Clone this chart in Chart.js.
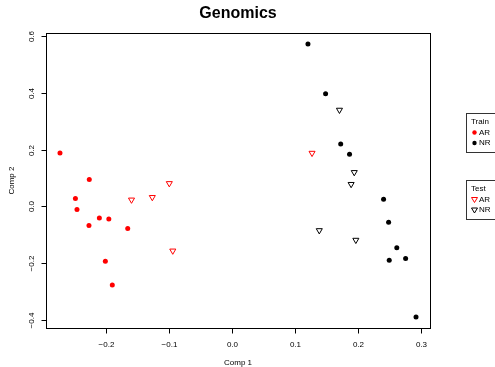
<!DOCTYPE html>
<html>
<head>
<meta charset="utf-8">
<title>Genomics</title>
<script src="https://cdn.jsdelivr.net/npm/chart.js@4.4.1/dist/chart.umd.min.js"></script>
<style>
  html, body { margin: 0; padding: 0; background: #fff; }
  #wrap { width: 495px; height: 367px; }
</style>
</head>
<body>
<div id="wrap"><canvas id="chart" width="495" height="367"></canvas></div>
<script>
// values
const trainArX = [-0.2735, -0.227, -0.249, -0.2465, -0.211, -0.196, -0.2275, -0.166, -0.2015, -0.1905];
const trainArY = [0.188, 0.095, 0.028, -0.011, -0.041, -0.045, -0.068, -0.078, -0.194, -0.278];
const trainNrX = [0.120, 0.148, 0.172, 0.186, 0.240, 0.248, 0.261, 0.275, 0.249, 0.2915];
const trainNrY = [0.5725, 0.397, 0.220, 0.184, 0.025, -0.056, -0.146, -0.184, -0.190, -0.3905];
const testArX = [-0.160, -0.127, -0.100, -0.0945, 0.1265];
const testArY = [0.023, 0.032, 0.081, -0.157, 0.188];
const testNrX = [0.170, 0.1935, 0.1885, 0.138, 0.196];
const testNrY = [0.340, 0.120, 0.078, -0.085, -0.119];

const xRange = [-0.296, 0.314];
const yRange = [-0.429, 0.611];
const xTitle = 'Comp 1';
const yTitle = 'Comp 2';
const legendGroups = ['Train', 'Test'];
const legendLabels = ['AR', 'NR'];

const FONT = '"Liberation Sans", Arial, Helvetica, sans-serif';

const toPoints = (xs, ys) => xs.map((x, i) => ({ x, y: ys[i] }));
const fmt = v => {
  const s = (Math.abs(v) < 1e-9 ? 0 : v).toFixed(1);
  return s.replace('-', '\u2212');
};

// R-style box, ticks, tick labels, axis titles and the two legends
const rAxes = {
  id: 'rAxes',
  afterDraw(chart) {
    const { ctx, chartArea: a, scales } = chart;
    const xs = scales.x, ys = scales.y;
    ctx.save();
    ctx.strokeStyle = '#000';
    ctx.fillStyle = '#000';
    ctx.lineWidth = 1;
    ctx.strokeRect(Math.round(a.left) + 0.5, Math.round(a.top) + 0.5,
      Math.round(a.right - a.left), Math.round(a.bottom - a.top));

    ctx.font = '8px ' + FONT;
    ctx.textAlign = 'center';
    ctx.textBaseline = 'middle';
    const bottom = Math.round(a.bottom) + 0.5;
    xs.ticks.forEach(t => {
      if (t.value < xs.min || t.value > xs.max) return;
      const px = Math.round(xs.getPixelForValue(t.value)) + 0.5;
      ctx.beginPath();
      ctx.moveTo(px, bottom);
      ctx.lineTo(px, bottom + 5);
      ctx.stroke();
      ctx.fillText(fmt(t.value), px, bottom + 16);
    });
    const left = Math.round(a.left) + 0.5;
    ys.ticks.forEach(t => {
      if (t.value < ys.min || t.value > ys.max) return;
      const py = Math.round(ys.getPixelForValue(t.value)) + 0.5;
      ctx.beginPath();
      ctx.moveTo(left, py);
      ctx.lineTo(left - 5, py);
      ctx.stroke();
      ctx.save();
      ctx.translate(left - 15, py);
      ctx.rotate(-Math.PI / 2);
      ctx.fillText(fmt(t.value), 0, 0);
      ctx.restore();
    });

    ctx.fillText(xTitle, (a.left + a.right) / 2, 363);
    ctx.save();
    ctx.translate(12, (a.top + a.bottom) / 2);
    ctx.rotate(-Math.PI / 2);
    ctx.fillText(yTitle, 0, 0);
    ctx.restore();

    // legends (partly cut off at the right edge, as in the reference)
    const boxes = [
      { top: 113.5, h: 39, tri: false },
      { top: 180.5, h: 39, tri: true }
    ];
    boxes.forEach((b, gi) => {
      ctx.strokeStyle = '#333';
      ctx.strokeRect(466.5, b.top, 40, b.h);
      ctx.fillStyle = '#000';
      ctx.textAlign = 'left';
      ctx.fillText(legendGroups[gi], 471, b.top + 8);
      legendLabels.forEach((lab, li) => {
        const y = b.top + 19 + li * 10.5;
        const col = li === 0 ? '#ff0000' : '#000';
        if (b.tri) {
          ctx.strokeStyle = col;
          ctx.beginPath();
          ctx.moveTo(471.5, y - 2);
          ctx.lineTo(477.5, y - 2);
          ctx.lineTo(474.5, y + 3);
          ctx.closePath();
          ctx.stroke();
        } else {
          ctx.fillStyle = col;
          ctx.beginPath();
          ctx.arc(474.5, y, 2.2, 0, Math.PI * 2);
          ctx.fill();
        }
        ctx.fillStyle = '#000';
        ctx.fillText(lab, 479, y);
      });
    });
    ctx.restore();
  }
};

const dot = (data, color) => ({
  data, pointStyle: 'circle', pointRadius: 2.5,
  backgroundColor: color, borderColor: color, borderWidth: 0
});
const tri = (data, color) => ({
  data, pointStyle: 'triangle', pointRadius: 3.5, rotation: 180,
  backgroundColor: 'rgba(0,0,0,0)', borderColor: color, borderWidth: 1
});

new Chart(document.getElementById('chart'), {
  type: 'scatter',
  data: {
    datasets: [
      dot(toPoints(trainArX, trainArY), '#ff0000'),
      dot(toPoints(trainNrX, trainNrY), '#000000'),
      tri(toPoints(testArX, testArY), '#ff0000'),
      tri(toPoints(testNrX, testNrY), '#000000')
    ]
  },
  options: {
    responsive: false,
    animation: false,
    devicePixelRatio: 1,
    layout: { padding: { top: 0, right: 64.8, bottom: 0, left: 0 } },
    plugins: {
      legend: { display: false },
      tooltip: { enabled: false },
      title: {
        display: true,
        text: 'Genomics',
        fullSize: false,
        color: '#000',
        font: { family: FONT, size: 16, weight: 'bold' },
        padding: { top: 4, bottom: 10 }
      }
    },
    scales: {
      x: {
        type: 'linear',
        min: xRange[0], max: xRange[1],
        grid: { display: false },
        border: { display: false },
        ticks: { display: false, stepSize: 0.1, includeBounds: false },
        afterFit: s => { s.height = 39.1; }
      },
      y: {
        type: 'linear',
        min: yRange[0], max: yRange[1],
        grid: { display: false },
        border: { display: false },
        ticks: { display: false, stepSize: 0.2, includeBounds: false },
        afterFit: s => { s.width = 45.8; }
      }
    }
  },
  plugins: [rAxes]
});
</script>
</body>
</html>
